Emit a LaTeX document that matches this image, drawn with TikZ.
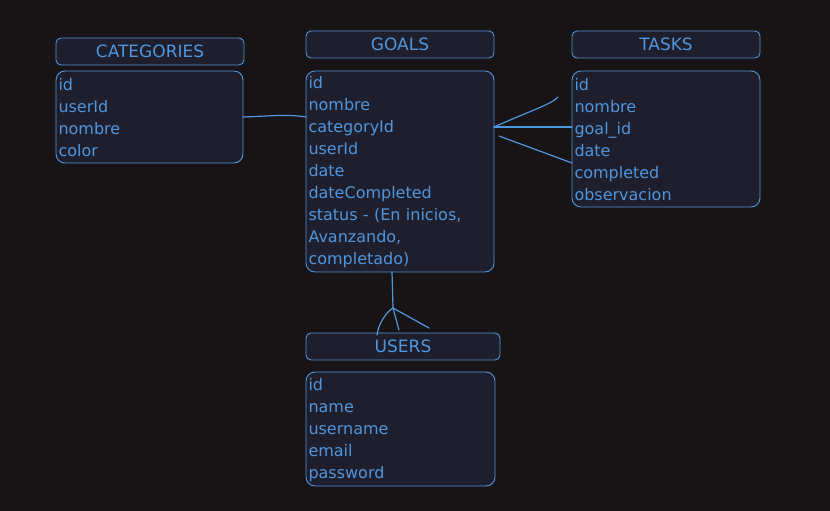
\documentclass[tikz,border=0pt]{standalone}
\usepackage{fontspec}
\setmainfont{DejaVu Sans}
\definecolor{page_bg}{RGB}{24,20,21}
\definecolor{box_fill}{RGB}{31,30,44}
\definecolor{line_blue}{RGB}{78,150,222}

\tikzset{
	header/.style={draw=line_blue,fill=box_fill,rounded corners=5pt,line width=0.9pt,minimum height=27pt,inner sep=0pt,outer sep=0pt,text=line_blue,font=\fontsize{17}{20}\selectfont},
	fields/.style={draw=line_blue,fill=box_fill,rounded corners=9pt,line width=0.9pt,inner xsep=2.5pt,inner ysep=0pt,outer sep=0pt,anchor=north west,align=left,text=line_blue,font=\fontsize{16}{22}\selectfont},
	link/.style={line_blue,line width=1.2pt,line cap=round}
}

\begin{document}
\begin{tikzpicture}[x=1pt,y=-1pt]
	\fill[page_bg] (0,0) rectangle (830,511);
	\useasboundingbox (0,0) rectangle (830,511);

	\node[header,minimum width=188pt] (cat_head) at (150,51.5) {CATEGORIES};
	\node[header,minimum width=188pt] (goal_head) at (400,44.5) {GOALS};
	\node[header,minimum width=188pt] (task_head) at (666,44.5) {TASKS};
	\node[header,minimum width=194pt] (user_head) at (403,346.5) {USERS};

	\node[fields,text width=182pt,minimum height=92pt] (cat) at (56,71) {\rule{0pt}{13.5pt}id\\userId\\nombre\\color};
	\node[fields,text width=183pt,minimum height=201pt] (goal) at (306,71) {\rule{0pt}{13.5pt}id\\nombre\\categoryId\\userId\\date\\dateCompleted\\status - (En inicios,\\Avanzando,\\completado)};
	\node[fields,text width=183pt,minimum height=136pt] (task) at (572,71) {\rule{0pt}{13.5pt}id\\nombre\\goal\_id\\date\\completed\\observacion};
	\node[fields,text width=184pt,minimum height=114pt] (user) at (306,372) {\rule{0pt}{13.5pt}id\\name\\username\\email\\password};

	% categories - goals
	\draw[link] (cat.east) .. controls +(30,-1) and +(-20,-3) .. (cat.east -| goal.west);

	% goals - tasks (many)
	\coordinate (gt) at ([yshift=-56pt]goal.north east);
	\coordinate (gt_up) at (558,97);
	\draw[link] (gt) .. controls (530,111) and (552,104) .. (gt_up);
	\draw[link] (gt) -- (gt -| task.west);
	\draw[link] ([shift={(5pt,-65pt)}]goal.north east) -- ([yshift=-92pt]task.north west);

	% goals - users (many)
	\coordinate (gu_top) at ([xshift=-8pt]goal.south);
	\coordinate (gu_fork) at (393,308);
	\coordinate (gu_end) at ([shift={(-4pt,3pt)}]user_head.north);
	\coordinate (gu_left) at (377,335);
	\coordinate (gu_right) at (429,328);
	\draw[link] (gu_top) -- (gu_fork) -- (gu_end);
	\draw[link] (gu_fork) .. controls (386,312) and (378,325) .. (gu_left);
	\draw[link] (gu_fork) -- (gu_right);
\end{tikzpicture}
\end{document}
